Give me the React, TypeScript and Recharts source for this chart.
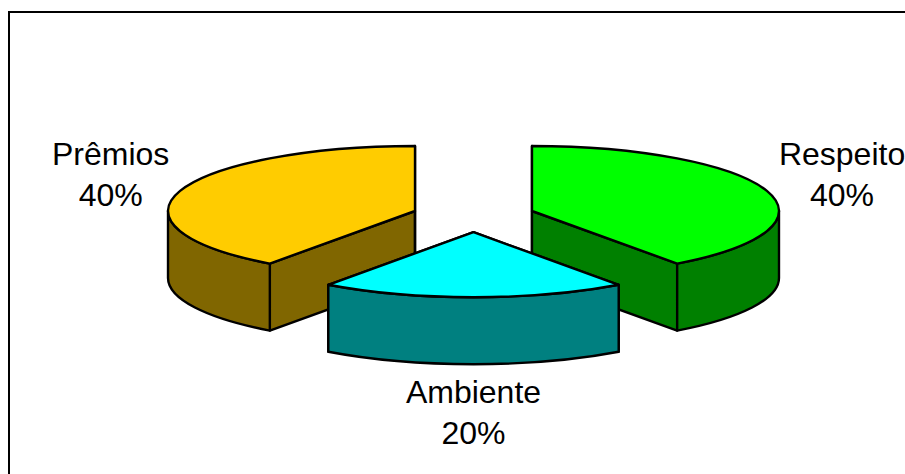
import { PieChart, Pie } from "recharts";

const sliceNames = ["Prêmios", "Respeito", "Ambiente"];
const sliceValues = [40, 40, 20];
const topColors = ["#FFCC00", "#00FF00", "#00FFFF"];
const wallColors = ["#806600", "#008000", "#008080"];

const data = sliceNames.map((name, i) => ({
  name,
  value: sliceValues[i],
  fill: topColors[i],
  wall: wallColors[i],
}));

const WIDTH = 905;
const HEIGHT = 474;
const RADIUS = 247;
const TILT = 65 / 247; // vertical squash of the pie disc
const DEPTH = 67;
const EXPLODE = 61.5;
const FONT = "'Liberation Sans', Arial, sans-serif";

const rad = (deg: number) => (deg * Math.PI) / 180;

function ellipsePoint(cx: number, cy: number, deg: number, r = RADIUS) {
  return { x: cx + r * Math.cos(rad(deg)), y: cy - r * TILT * Math.sin(rad(deg)) };
}

// the outer wall only shows where the rim runs along the front half of the disc
function frontRange(start: number, end: number) {
  for (let k = -1; k <= 1; k++) {
    const lo = Math.max(end, -180 + 360 * k);
    const hi = Math.min(start, 360 * k);
    if (hi > lo) return [hi, lo];
  }
  return null;
}

function Slice3D(props: any) {
  const { cx, cy, startAngle, endAngle, midAngle, fill, payload } = props;
  const wall = payload.wall;
  const c = ellipsePoint(cx, cy, midAngle, EXPLODE);
  const a = ellipsePoint(c.x, c.y, startAngle);
  const b = ellipsePoint(c.x, c.y, endAngle);
  const arcTo = (p: { x: number; y: number }, sweep: number) =>
    `A ${RADIUS} ${RADIUS * TILT} 0 0 ${sweep} ${p.x} ${p.y}`;

  const sideFace = (p: { x: number; y: number }) =>
    `M ${c.x} ${c.y} L ${p.x} ${p.y} L ${p.x} ${p.y + DEPTH} L ${c.x} ${c.y + DEPTH} Z`;

  const range = frontRange(startAngle, endAngle);
  let rimWall = "";
  if (range) {
    const p = ellipsePoint(c.x, c.y, range[0]);
    const q = ellipsePoint(c.x, c.y, range[1]);
    rimWall = `M ${p.x} ${p.y} ${arcTo(q, 1)} L ${q.x} ${q.y + DEPTH} ${arcTo({ x: p.x, y: p.y + DEPTH }, 0)} Z`;
  }

  const line = { stroke: "#000", strokeWidth: 2.4, strokeLinejoin: "round" as const };
  return (
    <g>
      <path d={sideFace(a)} fill={wall} {...line} />
      <path d={sideFace(b)} fill={wall} {...line} />
      {rimWall && <path d={rimWall} fill={wall} {...line} />}
      <path d={`M ${c.x} ${c.y} L ${a.x} ${a.y} ${arcTo(b, 1)} Z`} fill={fill} {...line} />
    </g>
  );
}

function SliceLabel(props: any) {
  const { cx, cy, midAngle, name, percent } = props;
  const s = Math.sin(rad(midAngle));
  const co = Math.cos(rad(midAngle));
  // the left label sits a little closer to its slice than the right one
  const x = cx + (RADIUS + EXPLODE + (co < 0 ? 73 : 79)) * co;
  const rimY = cy - (RADIUS + EXPLODE) * TILT * s;
  // side labels sit level with the rim, the front one hangs under the wall
  const baseline = s > 0 ? rimY - 26 : rimY + DEPTH + 39;
  return (
    <text x={x} y={baseline} textAnchor="middle" fill="#000" fontSize={32} fontFamily={FONT}>
      <tspan x={x}>{name}</tspan>
      <tspan x={x} dy={41}>{`${Math.round(percent * 100)}%`}</tspan>
    </text>
  );
}

export default function App() {
  return (
    <div style={{ position: "absolute", left: 0, top: 0, width: WIDTH, height: HEIGHT, overflow: "hidden", background: "#fff" }}>
      <div
        style={{
          position: "absolute",
          left: 8,
          top: 11,
          width: WIDTH,
          height: HEIGHT,
          borderLeft: "2px solid #000",
          borderTop: "2px solid #000",
        }}
      />
      <PieChart width={WIDTH} height={HEIGHT} margin={{ top: 0, right: 0, bottom: 0, left: 0 }} style={{ position: "absolute", left: 0, top: 0 }}>
        <Pie
          data={data}
          dataKey="value"
          nameKey="name"
          cx={473.5}
          cy={216}
          outerRadius={RADIUS}
          startAngle={234}
          endAngle={-126}
          shape={Slice3D}
          label={SliceLabel}
          labelLine={false}
          isAnimationActive={false}
        />
      </PieChart>
    </div>
  );
}
